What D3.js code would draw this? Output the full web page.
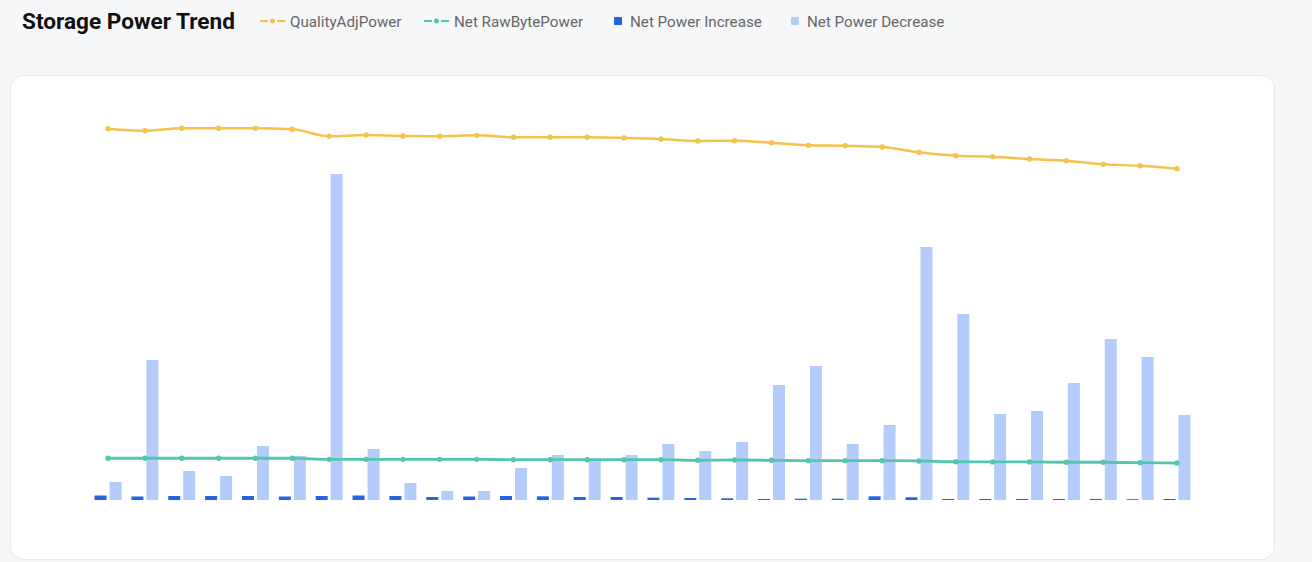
<!DOCTYPE html>
<html>
<head>
<meta charset="utf-8">
<script src="https://cdn.jsdelivr.net/npm/d3@7/dist/d3.min.js"></script>
<style>
  html, body { margin: 0; padding: 0; background: #f6f7f9; }
  svg { display: block; font-family: Roboto, "Noto Sans", sans-serif; }
</style>
</head>
<body>
<svg id="chart" width="1312" height="562"></svg>
<script>
// ---- data ----
const categories = ["D01","D02","D03","D04","D05","D06","D07","D08","D09","D10",
                    "D11","D12","D13","D14","D15","D16","D17","D18","D19","D20",
                    "D21","D22","D23","D24","D25","D26","D27","D28","D29","D30"];
// EiB
const qualityAdjPower = [23.21,23.08,23.23,23.23,23.23,23.17,22.73,22.81,22.75,22.73,
                         22.79,22.67,22.67,22.67,22.63,22.56,22.44,22.46,22.33,22.17,
                         22.14,22.06,21.73,21.52,21.46,21.31,21.21,20.98,20.89,20.71];
const netRawBytePower = [2.61,2.61,2.61,2.61,2.61,2.61,2.54,2.54,2.54,2.54,
                         2.54,2.52,2.52,2.52,2.52,2.52,2.48,2.50,2.48,2.46,
                         2.46,2.46,2.44,2.39,2.38,2.38,2.36,2.36,2.33,2.31];
// PiB
const netPowerIncrease = [0.45,0.35,0.40,0.40,0.40,0.35,0.40,0.45,0.40,0.30,
                          0.35,0.40,0.37,0.30,0.30,0.23,0.20,0.17,0.10,0.13,
                          0.13,0.37,0.27,0.10,0.10,0.10,0.10,0.10,0.08,0.10];
const netPowerDecrease = [1.8,14.0,2.9,2.4,5.4,4.4,32.6,5.1,1.7,0.9,
                          0.9,3.2,4.5,4.1,4.5,5.6,4.9,5.8,11.5,13.4,
                          5.6,7.5,25.3,18.6,8.6,8.9,11.7,16.1,14.3,8.5];
const legendLabels = ["QualityAdjPower","Net RawBytePower","Net Power Increase","Net Power Decrease"];
const titleText = "Storage Power Trend";

// ---- styles ----
const C = { qap: "#F6C24C", rbp: "#52C7AE", inc: "#2563E0", dec: "#B3CCFA" };

const svg = d3.select("#chart");

// card
svg.append("rect").attr("x", 10.5).attr("y", 75.5).attr("width", 1264).attr("height", 484)
  .attr("rx", 13).attr("fill", "#ffffff").attr("stroke", "#e7e9ec");

// title
svg.append("text").attr("x", 22).attr("y", 29).attr("font-size", 22.6).attr("font-weight", 700)
  .attr("fill", "#111").text(titleText);

// legend
const legendX = [260, 424, 614, 791];
const lg = svg.append("g");
legendLabels.forEach((lab, i) => {
  const g = lg.append("g").attr("transform", `translate(${legendX[i]},21)`);
  if (i < 2) {
    const col = i === 0 ? C.qap : C.rbp;
    g.append("line").attr("x1", 0).attr("x2", 8).attr("stroke", col).attr("stroke-width", 2);
    g.append("line").attr("x1", 17).attr("x2", 25).attr("stroke", col).attr("stroke-width", 2);
    g.append("circle").attr("cx", 12.5).attr("cy", 0).attr("r", 2.5).attr("fill", col);
    g.append("text").attr("x", 30).attr("y", 5.5).attr("font-size", 15.2).attr("fill", "#666").text(lab);
  } else {
    const col = i === 2 ? C.inc : C.dec;
    g.append("rect").attr("x", 0).attr("y", -4).attr("width", 8).attr("height", 8).attr("rx", 1).attr("fill", col);
    g.append("text").attr("x", 16).attr("y", 5.5).attr("font-size", 15.2).attr("fill", "#666").text(lab);
  }
});

// scales
const x = d3.scaleBand().domain(categories).range([89.6, 1195.4]).padding(0);
const xs = d3.scaleBand().domain(["inc","dec"]).range([0, x.bandwidth()]).paddingInner(0.2).paddingOuter(0.33);
const yBar = d3.scaleLinear().domain([0, 35]).range([500, 150]);
const yLine = d3.scaleLinear().domain([0, 25]).range([500, 100]);

// bars
const groups = svg.append("g").selectAll("g").data(categories).join("g")
  .attr("transform", d => `translate(${x(d)},0)`);
groups.append("rect")
  .attr("x", xs("inc")).attr("width", xs.bandwidth())
  .attr("y", (d, i) => yBar(netPowerIncrease[i]))
  .attr("height", (d, i) => yBar(0) - yBar(netPowerIncrease[i]))
  .attr("fill", C.inc);
groups.append("rect")
  .attr("x", xs("dec")).attr("width", xs.bandwidth())
  .attr("y", (d, i) => yBar(netPowerDecrease[i]))
  .attr("height", (d, i) => yBar(0) - yBar(netPowerDecrease[i]))
  .attr("fill", C.dec);

// lines
function drawLine(values, col, w) {
  const line = d3.line()
    .x((d, i) => x(categories[i]) + x.bandwidth() / 2)
    .y(d => yLine(d))
    .curve(d3.curveMonotoneX);
  svg.append("path").datum(values).attr("d", line).attr("fill", "none")
    .attr("stroke", col).attr("stroke-width", w);
  svg.append("g").selectAll("circle").data(values).join("circle")
    .attr("cx", (d, i) => x(categories[i]) + x.bandwidth() / 2)
    .attr("cy", d => yLine(d)).attr("r", 2.7).attr("fill", col);
}
drawLine(qualityAdjPower, C.qap, 2.5);
drawLine(netRawBytePower, C.rbp, 2.8);
</script>
</body>
</html>
